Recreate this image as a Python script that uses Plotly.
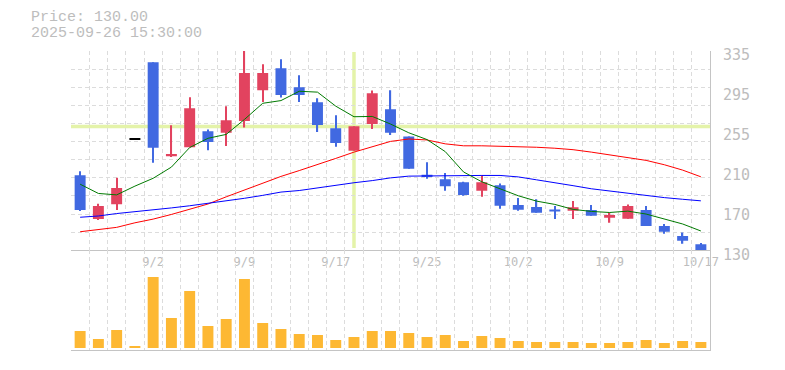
import plotly.graph_objects as go

# ---------------- data ----------------
dates = ["8/27", "8/28", "8/29", "9/1", "9/2", "9/3", "9/4", "9/5", "9/8", "9/9",
         "9/10", "9/11", "9/12", "9/16", "9/17", "9/18", "9/19", "9/22", "9/24", "9/25",
         "9/26", "9/29", "9/30", "10/1", "10/2", "10/3", "10/6", "10/7", "10/8", "10/9",
         "10/10", "10/14", "10/15", "10/16", "10/17"]

opens = [207.3, 162.2, 177.5, 244.0, 323.4, 226.8, 236.1, 252.5, 250.8, 263.1,
         294.6, 317.2, 297.7, 282.3, 255.6, 232.3, 260.0, 275.1, 247.1, 207.6,
         203.2, 200.1, 191.2, 197.0, 176.5, 174.5, 172.1, 170.7, 171.4, 163.5,
         162.5, 171.4, 155.0, 144.7, 136.2]
highs = [211.4, 177.9, 204.6, 244.0, 323.4, 258.7, 287.4, 254.3, 278.2, 335.0,
         321.3, 326.5, 310.0, 286.4, 269.0, 257.7, 294.3, 294.6, 247.1, 220.7,
         209.4, 200.4, 207.3, 198.8, 183.7, 182.4, 175.5, 180.6, 176.5, 169.0,
         177.2, 175.5, 157.0, 148.2, 137.5]
lows = [170.4, 161.1, 171.4, 244.0, 220.0, 226.1, 236.1, 233.0, 237.4, 256.3,
        282.6, 287.1, 282.6, 251.8, 236.4, 232.3, 254.9, 248.7, 213.8, 203.5,
        191.2, 186.0, 185.0, 172.7, 170.7, 168.6, 162.1, 162.1, 165.5, 158.3,
        162.5, 155.0, 147.1, 136.8, 130.0]
closes = [171.4, 175.5, 194.0, 244.0, 235.4, 229.0, 276.1, 241.5, 263.8, 312.4,
          312.4, 289.8, 289.8, 259.0, 240.5, 257.7, 291.5, 250.8, 213.8, 205.6,
          196.0, 186.8, 200.1, 175.8, 171.7, 168.6, 170.0, 174.2, 165.5, 166.2,
          175.5, 155.0, 149.1, 139.9, 130.0]
volumes = [17000, 9000, 18000, 2000, 71000, 30000, 57000, 22000, 29000, 69000,
           25000, 19000, 14000, 13000, 8000, 11000, 17000, 17000, 15000, 11000,
           13000, 7000, 12000, 10000, 7000, 6000, 6000, 6000, 5000, 5000,
           6000, 8000, 5000, 7000, 6000]

ma_short = [198.0, 188.5, 187.0, 196.0, 204.1, 215.6, 235.7, 245.2, 249.2, 264.6,
            281.2, 284.0, 293.6, 292.7, 278.3, 267.4, 267.7, 259.9, 250.9, 243.9,
            231.5, 210.6, 200.5, 192.9, 186.1, 180.6, 177.2, 172.1, 170.0, 168.9,
            170.3, 167.3, 162.3, 157.1, 149.9]
ma_mid = [149.1, 151.2, 153.6, 158.3, 162.1, 166.9, 172.1, 177.6, 185.0, 191.9,
          198.8, 206.0, 212.0, 218.0, 224.5, 231.0, 236.5, 242.0, 244.5, 243.5,
          239.5, 237.5, 237.5, 237.2, 236.8, 236.0, 235.0, 233.5, 231.0, 228.0,
          225.5, 222.5, 218.0, 212.5, 205.6]
ma_long = [164.0, 165.3, 167.8, 169.5, 171.6, 173.6, 175.8, 178.2, 181.0, 183.5,
           186.5, 189.9, 191.5, 194.2, 197.2, 199.5, 201.7, 204.5, 206.3, 206.6,
           206.6, 207.0, 207.0, 207.0, 205.5, 202.5, 199.8, 196.5, 193.3, 191.0,
           188.5, 186.2, 184.2, 182.5, 180.9]

x_tick_labels = ["9/2", "9/9", "9/17", "9/25", "10/2", "10/9", "10/17"]
y_tick_values = [130, 171, 212, 253, 294, 335]
y_tick_labels = ["130", "170", "210", "255", "295", "335"]

price_text = "Price: 130.00"
time_text = "2025-09-26 15:30:00"
cursor_price = 257.3
cursor_date = "9/18"

# ---------------- styling ----------------
UP = "#e2435f"
DOWN = "#4169e1"
FLAT = "#000000"
GRID = "#dcdcdc"
AXIS = "#c4c4c4"
TEXT = "#bdbdbd"
VOL = "#fdb833"
CROSS = "#e4f3a9"

n = len(dates)
xs = list(range(n))
colors = [UP if c > o else (DOWN if c < o else FLAT) for o, c in zip(opens, closes)]
body_base = [min(o, c) for o, c in zip(opens, closes)]
body_h = [abs(c - o) if abs(c - o) > 0 else 1.2 for o, c in zip(opens, closes)]
wick_h = [h - l for h, l in zip(highs, lows)]
tick_pos = [dates.index(d) for d in x_tick_labels]

fig = go.Figure()
fig.add_trace(go.Bar(x=xs, y=wick_h, base=lows, width=0.07, marker=dict(color=colors, line_width=0),
                     xaxis="x", yaxis="y", hoverinfo="skip"))
fig.add_trace(go.Bar(x=xs, y=body_h, base=body_base, width=0.6, marker=dict(color=colors, line_width=0),
                     xaxis="x", yaxis="y", hoverinfo="skip"))
fig.add_trace(go.Scatter(x=xs, y=ma_mid, mode="lines", line=dict(color="#ff0000", width=1),
                         xaxis="x", yaxis="y"))
fig.add_trace(go.Scatter(x=xs, y=ma_long, mode="lines", line=dict(color="#0000ff", width=1),
                         xaxis="x", yaxis="y"))
fig.add_trace(go.Scatter(x=xs, y=ma_short, mode="lines", line=dict(color="#007a00", width=1),
                         xaxis="x", yaxis="y"))
fig.add_trace(go.Bar(x=xs, y=volumes, width=0.6, marker=dict(color=VOL, line_width=0),
                     xaxis="x2", yaxis="y2", hoverinfo="skip"))

vgrid = [i - 0.5 for i in range(n + 1)]
hgrid = [130 + 205 / 11 * k for k in range(12)]
DASH = "4px,3px"
mono = "DejaVu Sans Mono"

# the page body adds an 8px offset, so margins are reduced by 8px on top/left
fig.update_layout(
    width=785, height=370,
    margin=dict(l=63, r=83, t=43, b=28, autoexpand=False),
    paper_bgcolor="white", plot_bgcolor="white",
    showlegend=False, barmode="overlay",
    xaxis=dict(domain=[0, 1], range=[-0.5, n - 0.5], anchor="y",
               tickmode="array", tickvals=tick_pos, ticktext=x_tick_labels,
               ticks="", showgrid=False, zeroline=False,
               showline=True, linecolor=AXIS, linewidth=1,
               tickfont=dict(family=mono, size=12, color=TEXT),
               minor=dict(tickmode="array", tickvals=vgrid, showgrid=True, gridcolor=GRID,
                          griddash=DASH, gridwidth=1, ticks="")),
    xaxis2=dict(domain=[0, 1], range=[-0.5, n - 0.5], anchor="y2", matches="x",
                showticklabels=False, ticks="", showgrid=False, zeroline=False,
                showline=True, linecolor=AXIS, linewidth=1,
                minor=dict(tickmode="array", tickvals=vgrid, showgrid=True, gridcolor=GRID,
                           griddash=DASH, gridwidth=1, ticks="")),
    yaxis=dict(domain=[0.3334, 1], range=[130, 335], anchor="x", side="right",
               tickmode="array", tickvals=y_tick_values, ticktext=y_tick_labels,
               ticks="", showgrid=False, zeroline=False,
               showline=True, linecolor=AXIS, linewidth=1,
               ticklabelstandoff=9, ticklabelshift=4,
               tickfont=dict(family=mono, size=15, color=TEXT),
               minor=dict(tickmode="array", tickvals=hgrid, showgrid=True, gridcolor=GRID,
                          griddash=DASH, gridwidth=1, ticks="")),
    yaxis2=dict(domain=[0, 0.3334], range=[-2000, 97700], anchor="x2", side="right",
                showticklabels=False, ticks="", showgrid=False, zeroline=False,
                showline=True, linecolor=AXIS, linewidth=1),
    annotations=[
        dict(text=price_text, xref="paper", yref="paper", x=-0.0653, y=1.112,
             xanchor="left", yanchor="middle", showarrow=False,
             font=dict(family="Liberation Mono", size=15, color=TEXT)),
        dict(text=time_text, xref="paper", yref="paper", x=-0.0653, y=1.060,
             xanchor="left", yanchor="middle", showarrow=False,
             font=dict(family="Liberation Mono", size=15, color=TEXT)),
    ],
    shapes=[
        dict(type="line", xref="x", yref="y", x0=-0.5, x1=n - 0.5, y0=cursor_price, y1=cursor_price,
             line=dict(color=CROSS, width=3.5), layer="below"),
        dict(type="line", xref="x", yref="y", x0=dates.index(cursor_date), x1=dates.index(cursor_date),
             y0=132.3, y1=334, line=dict(color=CROSS, width=3.5), layer="below"),
    ],
)

fig.write_html("out.html")
